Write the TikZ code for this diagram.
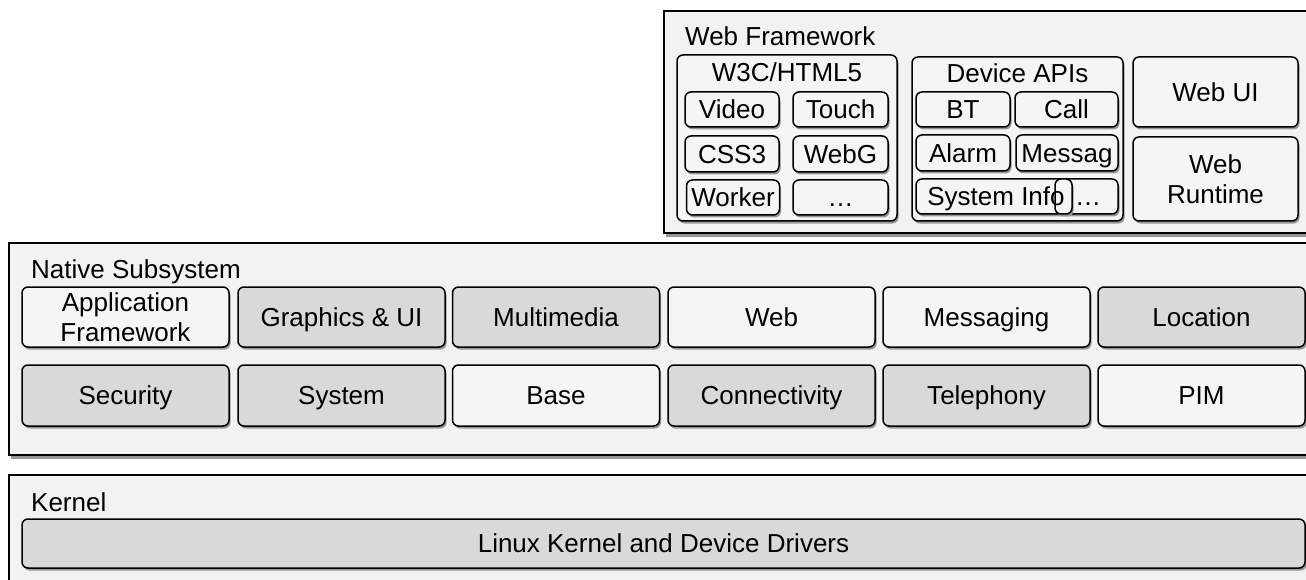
\documentclass[tikz,border=0pt]{standalone}
\usepackage{fontspec}
\setmainfont{Liberation Sans}
\usetikzlibrary{shadows}
\definecolor{framebg}{HTML}{F2F2F2}
\definecolor{boxgrey}{HTML}{D9D9D9}
\definecolor{boxlite}{HTML}{F5F5F5}
\definecolor{shadowgrey}{HTML}{969696}
\begin{document}
\begin{tikzpicture}[x=1pt,y=-1pt,font=\fontsize{26}{30}\selectfont,
  layer/.style={draw=black,line width=1.5pt,fill=framebg,
    drop shadow={shadow xshift=2pt,shadow yshift=-4pt,fill=shadowgrey,opacity=1}},
  blk/.style={draw=black,line width=1.5pt,rounded corners=6pt,inner sep=0pt,
    text height=18.5pt,text depth=0pt,
    drop shadow={shadow xshift=1.5pt,shadow yshift=-2.5pt,fill=shadowgrey,opacity=1}},
  greyblk/.style={blk,fill=boxgrey},
  liteblk/.style={blk,fill=boxlite},
  layertitle/.style={anchor=base west,inner sep=0pt},
  plaintext/.style={inner sep=0pt,text height=18.5pt,text depth=0pt}]
 \useasboundingbox (0,0) rectangle (1306,580);
 \clip (0,0) rectangle (1306,580);
 % layers
 \draw[layer] (664,11) rectangle (1330,233);
 \draw[layer] (9,243) rectangle (1330,455);
 \draw[layer] (9,475) rectangle (1330,600);
 \node[layertitle] (weblabel) at (685,46) {Web Framework};
 \node[layertitle] (nativelabel) at (31,278) {Native Subsystem};
 \node[layertitle] (kernellabel) at (31,511) {Kernel};
 % web framework
 \node[liteblk,minimum width=220pt,minimum height=166pt] (w3c) at (787,138) {};
 \node[anchor=base,inner sep=0pt] (w3clabel) at (787,82) {W3C/HTML5};
 \node[liteblk,minimum width=94pt,minimum height=35pt] (video) at (732,109.5) {Video};
 \node[liteblk,minimum width=95pt,minimum height=35pt] (touch) at (840.5,109.5) {Touch};
 \node[liteblk,minimum width=94pt,minimum height=36pt] (css) at (732,154) {CSS3};
 \node[liteblk,minimum width=95pt,minimum height=36pt] (webgl) at (840.5,154) {WebG};
 \node[liteblk,minimum width=93pt,minimum height=35pt] (worker) at (733,197.5) {Worker};
 \node[liteblk,minimum width=95pt,minimum height=35pt] (w3cmore) at (840.5,197.5) {…};
 \node[liteblk,minimum width=211pt,minimum height=164pt] (devapi) at (1017.5,139) {};
 \node[anchor=base,inner sep=0pt] (devapilabel) at (1017.5,83) {Device APIs};
 \node[liteblk,minimum width=94pt,minimum height=35pt] (bt) at (963,109.5) {BT};
 \node[liteblk,minimum width=103pt,minimum height=35pt] (call) at (1066.5,109.5) {Call};
 \node[liteblk,minimum width=94pt,minimum height=36pt] (alarm) at (963,153) {Alarm};
 \node[liteblk,minimum width=102pt,minimum height=36pt] (msg) at (1067,153) {Messag};
 \node[liteblk,minimum width=202pt,minimum height=35pt] (sysinfo) at (1017,196.5) {};
 \node[liteblk,minimum width=17pt,minimum height=35pt] (devmore) at (1063.5,196.5) {};
 \node[plaintext] (sysinfotext) at (996,196.5) {System Info};
 \node[plaintext] (devmoretext) at (1088,196.5) {…};
 \node[liteblk,minimum width=165pt,minimum height=70pt] (webui) at (1215.5,92) {Web UI};
 \node[liteblk,minimum width=165pt,minimum height=84pt,align=center,text height=48.5pt] (webrt) at (1215.5,179) {Web\\Runtime};
 % native subsystem
 \node[liteblk,minimum width=207pt,minimum height=60pt,align=center,text height=48.5pt] (appfw) at (125.5,317) {Application\\Framework};
 \node[greyblk,minimum width=207pt,minimum height=60pt] (gfx) at (341.5,317) {Graphics \& UI};
 \node[greyblk,minimum width=207pt,minimum height=60pt] (mm) at (556,317) {Multimedia};
 \node[liteblk,minimum width=207pt,minimum height=60pt] (web) at (771.5,317) {Web};
 \node[liteblk,minimum width=207pt,minimum height=60pt] (messaging) at (986.5,317) {Messaging};
 \node[greyblk,minimum width=207pt,minimum height=60pt] (location) at (1201.5,317) {Location};
 \node[greyblk,minimum width=207pt,minimum height=61pt] (security) at (125.5,395.5) {Security};
 \node[greyblk,minimum width=207pt,minimum height=61pt] (system) at (341.5,395.5) {System};
 \node[liteblk,minimum width=207pt,minimum height=61pt] (base) at (556,395.5) {Base};
 \node[greyblk,minimum width=207pt,minimum height=61pt] (conn) at (771.5,395.5) {Connectivity};
 \node[greyblk,minimum width=207pt,minimum height=61pt] (tel) at (986.5,395.5) {Telephony};
 \node[liteblk,minimum width=207pt,minimum height=61pt] (pim) at (1201.5,395.5) {PIM};
 % kernel
 \node[greyblk,minimum width=1283pt,minimum height=49pt] (linux) at (663.5,543.5) {Linux Kernel and Device Drivers};
\end{tikzpicture}
\end{document}
